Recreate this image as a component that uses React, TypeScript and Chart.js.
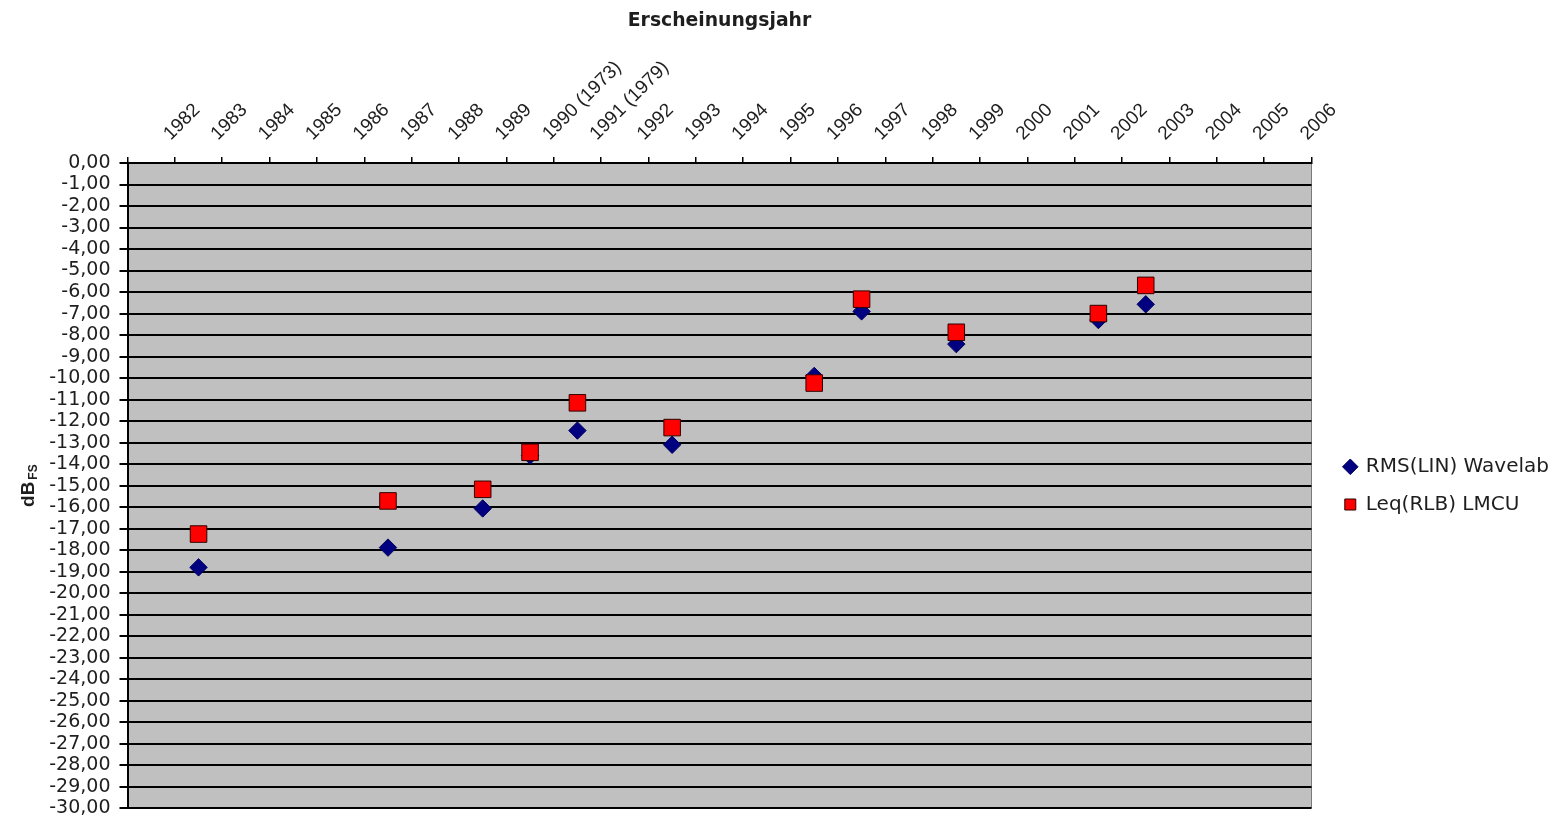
import React, { useEffect, useRef } from 'react';
import { Chart, registerables } from 'chart.js';

Chart.register(...registerables);

// ---- data ----
const xLabels = ['1982', '1983', '1984', '1985', '1986', '1987', '1988', '1989', '1990 (1973)', '1991 (1979)', '1992', '1993', '1994', '1995', '1996', '1997', '1998', '1999', '2000', '2001', '2002', '2003', '2004', '2005', '2006'];
const dataYears = ['1983', '1987', '1989', '1990 (1973)', '1991 (1979)', '1993', '1996', '1997', '1999', '2002', '2003'];
const rmsValues = [-18.8, -17.88, -16.06, -13.6, -12.44, -13.1, -9.9, -6.9, -8.42, -7.3, -6.57];
const leqValues = [-17.25, -15.71, -15.17, -13.45, -11.15, -12.3, -10.23, -6.33, -7.87, -7.0, -5.69];
const seriesNames = ['RMS(LIN) Wavelab', 'Leq(RLB) LMCU'];
const xTitle = 'Erscheinungsjahr';
const yTitleMain = 'dB';
const yTitleSub = 'FS';
const yMin = -30;
const yMax = 0;
const yStep = 1;

// ---- layout constants ----
const W = 1559;
const H = 821;
const PLOT_LEFT = 127.5;
const PLOT_TOP = 163;
const PLOT_RIGHT = 1311.5;
const PLOT_BOTTOM = 813;
const LEG_FONT_SIZE = 20;
const LEG_FAMILY = '"DejaVu Sans", sans-serif';
const LEG_PAD = 17.7;
const LEG_BOX = 11;
const TEXT = '#1e1e1e';

const bgPlugin = {
  id: 'plotBg',
  beforeDraw(chart: any) {
    const { ctx, chartArea } = chart;
    const { left, top, right, bottom } = chartArea;
    ctx.save();
    ctx.fillStyle = '#C0C0C0';
    ctx.fillRect(left, top, right - left, bottom - top);
    ctx.strokeStyle = '#7a7a7a';
    ctx.lineWidth = 1;
    ctx.beginPath();
    ctx.moveTo(Math.round(right) - 0.5, top);
    ctx.lineTo(Math.round(right) - 0.5, bottom);
    ctx.stroke();
    ctx.restore();
  },
};

const yTitlePlugin = {
  id: 'yTitleSub',
  afterDraw(chart: any) {
    const { ctx, chartArea } = chart;
    const cy = (chartArea.top + chartArea.bottom) / 2;
    const mainFont = 'bold 19px "Liberation Sans", Arial, sans-serif';
    const subFont = 'bold 12px "Liberation Sans", Arial, sans-serif';
    ctx.save();
    ctx.font = mainFont;
    const wMain = ctx.measureText(yTitleMain).width;
    ctx.font = subFont;
    const wSub = ctx.measureText(yTitleSub).width;
    const gap = 2;
    const total = wMain + gap + wSub;
    ctx.translate(33.5, cy + total / 2);
    ctx.rotate(-Math.PI / 2);
    ctx.fillStyle = TEXT;
    ctx.textAlign = 'left';
    ctx.textBaseline = 'alphabetic';
    ctx.font = mainFont;
    ctx.fillText(yTitleMain, 0, 0);
    ctx.font = subFont;
    ctx.fillText(yTitleSub, wMain + gap, 3);
    ctx.restore();
  },
};

function fmt(v: number): string {
  const s = (Math.abs(v) < 1e-9 ? 0 : v).toFixed(2);
  return s.replace('.', ',');
}

export default function App() {
  const ref = useRef<HTMLCanvasElement | null>(null);

  useEffect(() => {
    if (!ref.current) return;
    const chart = new Chart(ref.current, {
      type: 'line',
      data: {
        labels: xLabels,
        datasets: [
          {
            label: seriesNames[0],
            data: dataYears.map((yr, i) => ({ x: yr, y: rmsValues[i] })) as any,
            showLine: false,
            pointStyle: 'rectRot',
            pointRadius: 8.7,
            pointHoverRadius: 8.7,
            backgroundColor: '#000080',
            borderColor: '#000060',
            borderWidth: 1,
            order: 1,
          },
          {
            label: seriesNames[1],
            data: dataYears.map((yr, i) => ({ x: yr, y: leqValues[i] })) as any,
            showLine: false,
            pointStyle: 'rect',
            pointRadius: 11.7,
            pointHoverRadius: 11.7,
            backgroundColor: '#FF0000',
            borderColor: '#300000',
            borderWidth: 1,
            order: 0,
          },
        ],
      },
      options: {
        responsive: false,
        animation: false,
        devicePixelRatio: 1,
        layout: { padding: { left: 0, top: 0, right: 0, bottom: H - PLOT_BOTTOM } },
        plugins: {
          legend: {
            display: true,
            position: 'right',
            fullSize: false,
            labels: {
              usePointStyle: true,
              boxWidth: LEG_BOX,
              boxHeight: LEG_BOX,
              padding: LEG_PAD,
              color: TEXT,
              font: { family: LEG_FAMILY, size: LEG_FONT_SIZE },
              sort: (a: any, b: any) => a.datasetIndex - b.datasetIndex,
            },
          },
          tooltip: { enabled: false },
          title: { display: false },
        },
        scales: {
          x: {
            type: 'category',
            position: 'top',
            offset: true,
            grid: {
              offset: true,
              drawOnChartArea: false,
              drawTicks: true,
              tickLength: 6,
              color: '#000',
              lineWidth: 1.5,
            },
            border: { display: true, color: '#000', width: 2 },
            ticks: {
              autoSkip: false,
              minRotation: 45,
              maxRotation: 45,
              labelOffset: 32,
              padding: 12,
              color: TEXT,
              font: { family: '"Liberation Sans", Arial, sans-serif', size: 19 },
            },
            title: {
              display: true,
              text: xTitle,
              color: TEXT,
              font: { family: '"DejaVu Sans", sans-serif', size: 18.8, weight: 'bold' },
              padding: { top: 10, bottom: 0 },
            },
            afterFit: (s: any) => {
              s.height = PLOT_TOP;
              s.paddingLeft = 0;
              s.paddingRight = 0;
            },
          } as any,
          y: {
            type: 'linear',
            position: 'left',
            min: yMin,
            max: yMax,
            grid: {
              color: '#000',
              lineWidth: 2,
              drawTicks: true,
              tickLength: 8,
            },
            border: { display: true, color: '#000', width: 2 },
            ticks: {
              stepSize: yStep,
              autoSkip: false,
              padding: 9,
              color: TEXT,
              font: { family: '"DejaVu Sans", sans-serif', size: 19 },
              callback: (v: any) => fmt(Number(v)),
            },
            afterFit: (s: any) => {
              s.width = PLOT_LEFT;
              s.paddingTop = 0;
              s.paddingBottom = 0;
            },
          } as any,
          yR: {
            type: 'linear',
            position: 'right',
            display: true,
            grid: { display: false, drawTicks: false },
            border: { display: false },
            ticks: { display: false },
            afterFit: (s: any) => {
              const ctx = s.ctx;
              ctx.save();
              ctx.font = `${LEG_FONT_SIZE}px ${LEG_FAMILY}`;
              const tw = Math.max(...seriesNames.map((n) => ctx.measureText(n).width));
              ctx.restore();
              const legendW = LEG_PAD + LEG_BOX + LEG_FONT_SIZE / 2 + tw + 10;
              s.width = Math.max(0, W - PLOT_RIGHT - legendW);
              s.paddingTop = 0;
              s.paddingBottom = 0;
            },
          } as any,
        },
      },
      plugins: [bgPlugin, yTitlePlugin],
    });
    return () => chart.destroy();
  }, []);

  return (
    <div style={{ position: 'absolute', left: 0, top: 0, width: W, height: H, background: '#fff' }}>
      <canvas ref={ref} width={W} height={H} style={{ display: 'block', width: W, height: H }} />
    </div>
  );
}
